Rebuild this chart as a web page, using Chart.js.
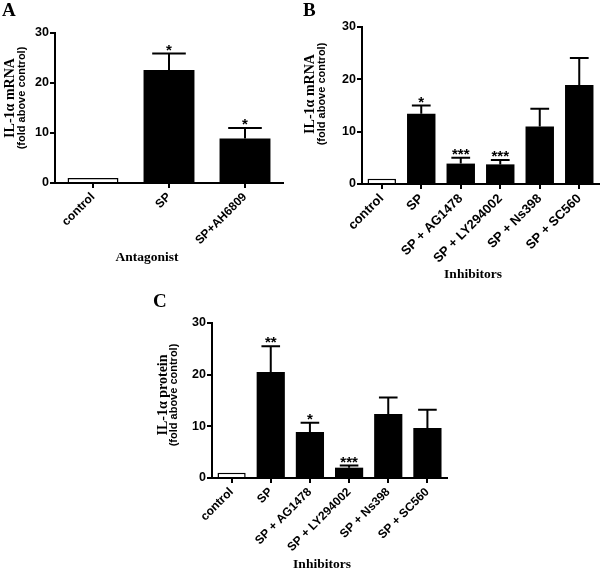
<!DOCTYPE html>
<html>
<head>
<meta charset="utf-8">
<title>IL-1α expression</title>
<script src="https://cdn.jsdelivr.net/npm/chart.js@4.4.1/dist/chart.umd.min.js"></script>
<style>
  body { margin: 0; background: #fff; }
  #wrap { position: relative; width: 600px; height: 572px; }
  canvas { position: absolute; }
</style>
</head>
<body>
<div id="wrap">
  <canvas id="panelA" width="300" height="285" style="left:0;top:0"></canvas>
  <canvas id="panelB" width="300" height="290" style="left:300px;top:0"></canvas>
  <canvas id="panelC" width="300" height="287" style="left:150px;top:285px"></canvas>
</div>
<script>
// data (mean fold change, upper SEM, significance marks)
const catsA = ['control', 'SP', 'SP+AH6809'];
const meanA = [1, 22.6, 8.9];
const semA = [0, 3.3, 2.1];
const starsA = ['', '*', '*'];

const catsB = ['control', 'SP', 'SP + AG1478', 'SP + LY294002', 'SP + Ns398', 'SP + SC560'];
const meanB = [1, 13.4, 3.9, 3.75, 11.0, 18.9];
const semB = [0, 1.6, 1.1, 0.85, 3.4, 5.2];
const starsB = ['', '*', '***', '***', '', ''];

const catsC = ['control', 'SP', 'SP + AG1478', 'SP + LY294002', 'SP + Ns398', 'SP + SC560'];
const meanC = [1, 20.5, 8.9, 2.0, 12.4, 9.7];
const semC = [0, 5.0, 1.8, 0.4, 3.2, 3.5];
const starsC = ['', '**', '*', '***', '', ''];

const yTicks = [0, 10, 20, 30];

const SANS = '"Liberation Sans", Arial, sans-serif';
const SERIF = '"Liberation Serif", "Times New Roman", serif';

// upper error bars + asterisks
const errorBars = {
    id: 'errorBars',
    afterDatasetsDraw(chart, args, opts) {
        const ctx = chart.ctx;
        const y = chart.scales.y;
        const meta = chart.getDatasetMeta(0);
        ctx.save();
        ctx.strokeStyle = '#000';
        ctx.fillStyle = '#000';
        ctx.lineWidth = 2;
        ctx.font = 'bold 15px ' + SANS;
        ctx.textAlign = 'center';
        ctx.textBaseline = 'alphabetic';
        meta.data.forEach((bar, i) => {
            const e = opts.err[i];
            if (!e) return;
            const top = y.getPixelForValue(opts.mean[i] + e);
            const half = bar.width * 0.33;
            ctx.beginPath();
            ctx.moveTo(bar.x, bar.y);
            ctx.lineTo(bar.x, top);
            ctx.moveTo(bar.x - half, top);
            ctx.lineTo(bar.x + half, top);
            ctx.stroke();
            if (opts.stars[i]) ctx.fillText(opts.stars[i], bar.x, top + 1);
        });
        ctx.restore();
    }
};

// panel letter and axis titles
const panelText = {
    id: 'panelText',
    afterDraw(chart, args, o) {
        const ctx = chart.ctx;
        ctx.save();
        ctx.fillStyle = '#000';
        ctx.textAlign = 'left';
        ctx.textBaseline = 'alphabetic';
        ctx.font = 'bold 19px ' + SERIF;
        ctx.fillText(o.letter, o.letterX, o.letterY);

        ctx.textAlign = 'center';
        ctx.textBaseline = 'middle';
        ctx.font = 'bold 13.5px ' + SERIF;
        ctx.fillText(o.xTitle, o.xTitleX, o.xTitleY);

        ctx.save();
        ctx.translate(o.y1X, o.yTitleY);
        ctx.rotate(-Math.PI / 2);
        ctx.font = 'bold 14px ' + SERIF;
        ctx.fillText(o.yTitle1, 0, 0);
        ctx.restore();

        ctx.save();
        ctx.translate(o.y2X, o.yTitleY);
        ctx.rotate(-Math.PI / 2);
        ctx.font = 'bold 11px ' + SANS;
        ctx.fillText(o.yTitle2, 0, 0);
        ctx.restore();
        ctx.restore();
    }
};

function makePanel(id, cats, mean, sem, stars, lay, text) {
    const colors = cats.map((c, i) => i === 0 ? '#fff' : '#000');
    const borders = cats.map((c, i) => i === 0 ? 1.5 : 0);
    new Chart(document.getElementById(id).getContext('2d'), {
        type: 'bar',
        data: {
            labels: cats,
            datasets: [{
                data: mean,
                backgroundColor: colors,
                borderColor: '#000',
                borderWidth: borders,
                borderSkipped: 'start',
                barPercentage: lay.barPct,
                categoryPercentage: 1
            }]
        },
        options: {
            responsive: false,
            animation: false,
            events: [],
            layout: { padding: { left: 0, right: lay.right, top: lay.top, bottom: 0 } },
            plugins: {
                legend: { display: false },
                tooltip: { enabled: false },
                errorBars: { mean: mean, err: sem, stars: stars },
                panelText: text
            },
            scales: {
                x: {
                    offset: true,
                    afterFit: s => { s.height = lay.xh; },
                    grid: { display: true, offset: false, drawOnChartArea: false, drawTicks: true, tickLength: 5, color: '#000', lineWidth: 2 },
                    border: { display: true, color: '#000', width: 2 },
                    ticks: {
                        autoSkip: false, minRotation: 45, maxRotation: 45, padding: 2,
                        color: '#000', font: { family: SANS, size: lay.catFont, weight: 'bold' }
                    }
                },
                y: {
                    min: 0,
                    max: 30,
                    afterFit: s => { s.width = lay.yw; },
                    afterBuildTicks: s => { s.ticks = yTicks.map(v => ({ value: v })); },
                    grid: { display: true, drawOnChartArea: false, drawTicks: true, tickLength: 5, color: '#000', lineWidth: 2 },
                    border: { display: true, color: '#000', width: 2 },
                    ticks: { padding: 1, color: '#000', font: { family: SANS, size: 12.5, weight: 'bold' } }
                }
            }
        },
        plugins: [errorBars, panelText]
    });
}

makePanel('panelA', catsA, meanA, semA, starsA,
    { barPct: 0.67, right: 17, top: 33, xh: 102, yw: 55, catFont: 12 },
    { letter: 'A', letterX: 2, letterY: 16, xTitle: 'Antagonist', xTitleX: 147, xTitleY: 258,
      yTitle1: 'IL-1α mRNA', yTitle2: '(fold above control)', y1X: 10, y2X: 22, yTitleY: 98 });

makePanel('panelB', catsB, meanB, semB, starsB,
    { barPct: 0.72, right: 1, top: 27, xh: 106, yw: 62, catFont: 13 },
    { letter: 'B', letterX: 3, letterY: 16, xTitle: 'Inhibitors', xTitleX: 173, xTitleY: 275,
      yTitle1: 'IL-1α mRNA', yTitle2: '(fold above control)', y1X: 10, y2X: 22, yTitleY: 94 });

makePanel('panelC', catsC, meanC, semC, starsC,
    { barPct: 0.72, right: 3, top: 38, xh: 94, yw: 62, catFont: 12 },
    { letter: 'C', letterX: 3, letterY: 22, xTitle: 'Inhibitors', xTitleX: 172, xTitleY: 280,
      yTitle1: 'IL-1α protein', yTitle2: '(fold above control)', y1X: 13, y2X: 24, yTitleY: 110 });
</script>
</body>
</html>
